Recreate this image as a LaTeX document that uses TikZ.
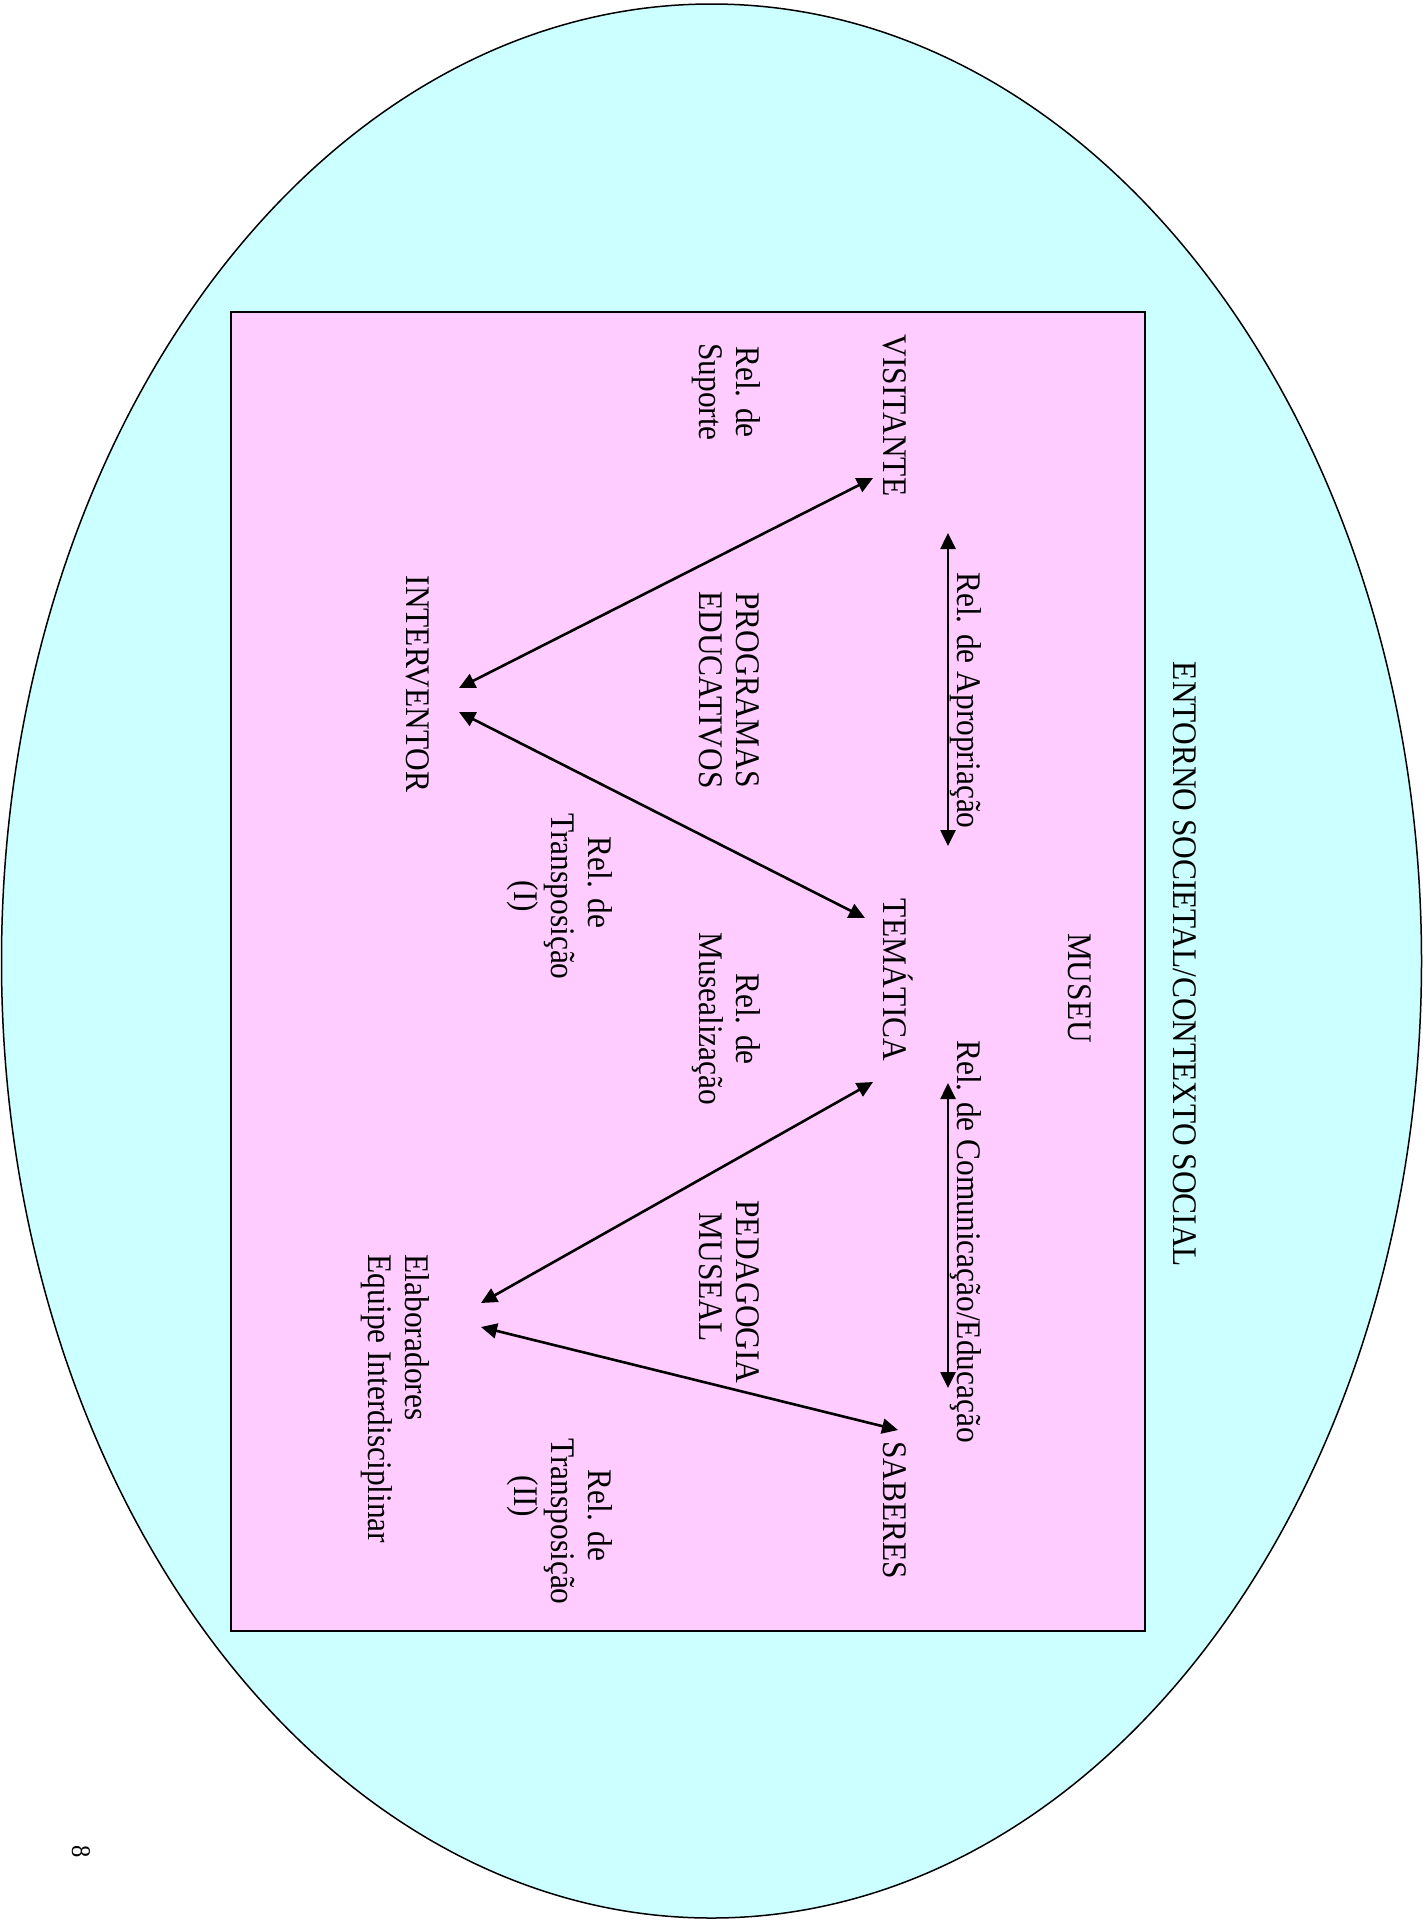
\documentclass[tikz,border=0pt]{standalone}
\usepackage{fontspec}
\setmainfont{Liberation Serif}[FakeStretch=0.91]
\usetikzlibrary{arrows.meta}
\definecolor{outerc}{HTML}{CCFFFF}
\definecolor{innerc}{HTML}{FFCCFF}
\begin{document}
\begin{tikzpicture}[x=1pt,y=-1pt,
  lbl/.style={rotate=-90, anchor=base, inner sep=0pt, font=\fontsize{34.5}{37}\selectfont},
  link/.style={line width=2.6pt, {Triangle[length=16pt,width=15pt]}-{Triangle[length=16pt,width=15pt]}}]
\useasboundingbox (0,0) rectangle (1423,1920);
\fill[white] (0,0) rectangle (1423,1920);
% outer ellipse and museum box
\draw[fill=outerc, line width=1.5pt] (711.5,961) ellipse [x radius=710pt, y radius=957pt];
\draw[fill=innerc, line width=2pt] (231,312) rectangle (1145,1631);
% texts
\node[lbl] (entorno) at (1173,964.5) {ENTORNO SOCIETAL/CONTEXTO SOCIAL};
\node[lbl] (museu) at (1068,988) {MUSEU};
\node[lbl] (apro) at (957,700.5) {Rel. de Apropriação};
\node[lbl] (comu) at (957,1241.5) {Rel. de Comunicação/Educação};
\node[lbl] (visitante) at (883,415.5) {VISITANTE};
\node[lbl] (tematica) at (883,980) {TEMÁTICA};
\node[lbl] (saberes) at (883,1510) {SABERES};
\node[lbl] (suporte) at (736,392) {\begin{tabular}[t]{@{}c@{}}Rel. de\\Suporte\end{tabular}};
\node[lbl] (programas) at (736,690) {\begin{tabular}[t]{@{}c@{}}PROGRAMAS\\EDUCATIVOS\end{tabular}};
\node[lbl] (musealiz) at (736,1019) {\begin{tabular}[t]{@{}c@{}}Rel. de\\Musealização\end{tabular}};
\node[lbl] (pedagogia) at (736,1292) {\begin{tabular}[t]{@{}c@{}}PEDAGOGIA\\MUSEAL\hspace*{30pt}\end{tabular}};
\node[lbl] (transI) at (588,896.5) {\begin{tabular}[t]{@{}c@{}}Rel. de\hspace*{28pt}\\Transposição\\(I)\end{tabular}};
\node[lbl] (transII) at (588,1521.5) {\begin{tabular}[t]{@{}c@{}}Rel. de\hspace*{12pt}\\Transposição\\(II)\hspace*{50pt}\end{tabular}};
\node[lbl] (interventor) at (406,684) {INTERVENTOR};
\node[lbl] (elab) at (405,1399) {\begin{tabular}[t]{@{}l@{}}Elaboradores\\Equipe Interdisciplinar\end{tabular}};
\node[rotate=-90, inner sep=0pt, font=\fontsize{27}{30}\selectfont] (pagenum) at (81,1852) {8};
% connector end points
\coordinate (vA) at (873,478);
\coordinate (iA) at (459,688);
\coordinate (iB) at (459,712);
\coordinate (tA) at (865,918);
\coordinate (tB) at (873,1082);
\coordinate (eA) at (481,1303);
\coordinate (eB) at (481,1327);
\coordinate (sA) at (898,1430);
\coordinate (apT) at (948,533);
\coordinate (apB) at (948,846);
\coordinate (coT) at (948,1083);
\coordinate (coB) at (948,1388);
% connectors
\draw[link] (vA) -- (iA);
\draw[link] (iB) -- (tA);
\draw[link] (tB) -- (eA);
\draw[link] (eB) -- (sA);
\draw[link] (apT) -- (apB);
\draw[link] (coT) -- (coB);
\end{tikzpicture}
\end{document}
